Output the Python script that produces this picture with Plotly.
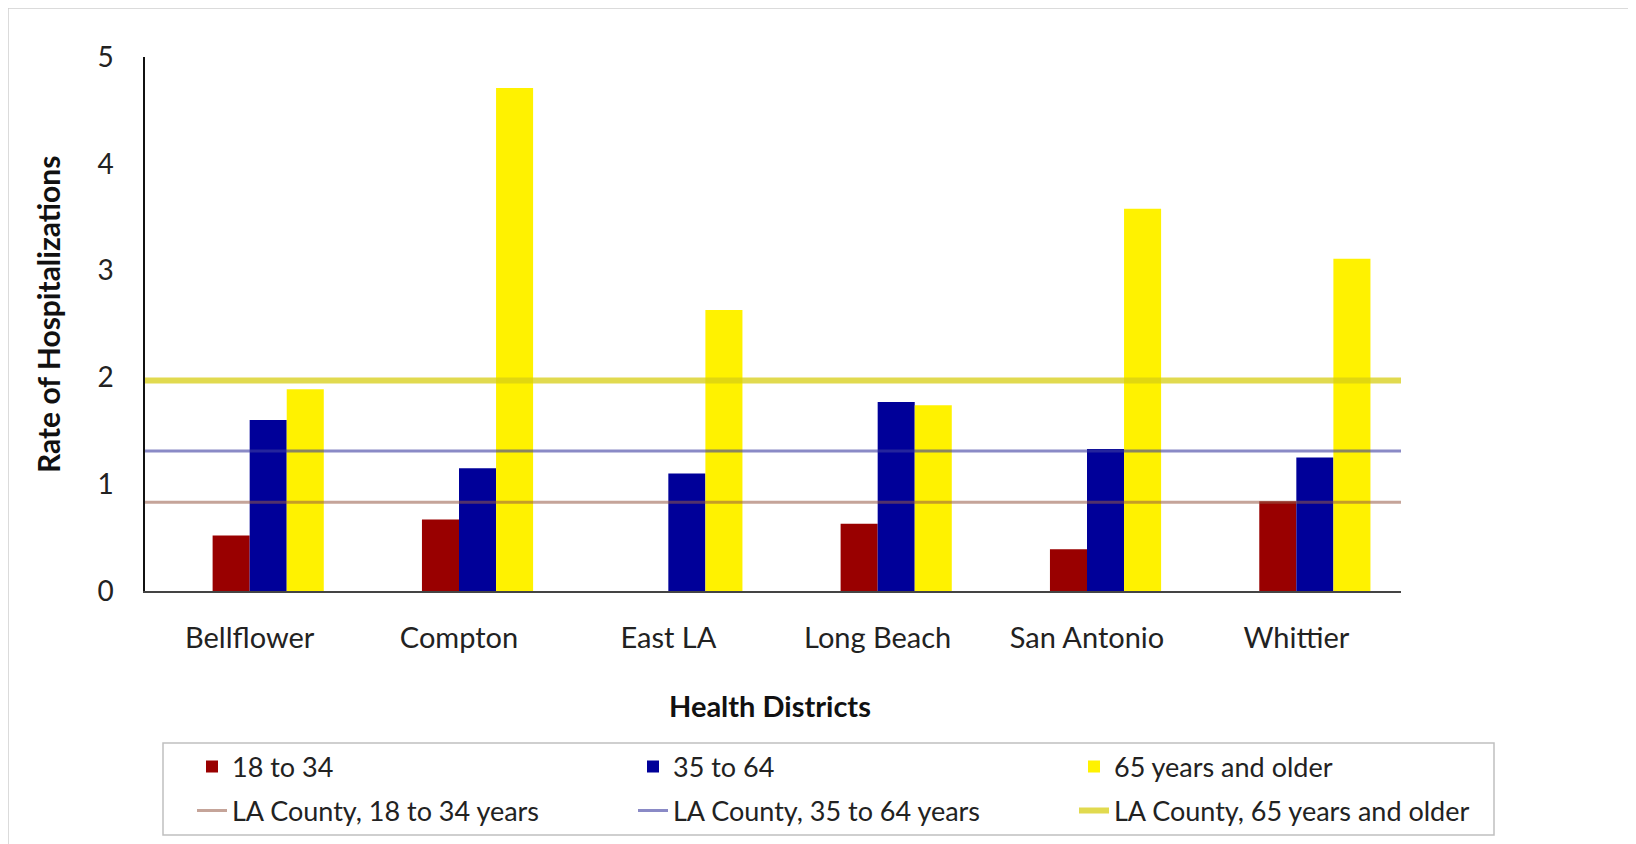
import plotly.graph_objects as go

districts = ["Bellflower", "Compton", "East LA", "Long Beach", "San Antonio", "Whittier"]
age_18_34 = [0.52, 0.67, 0.0, 0.63, 0.39, 0.84]
age_35_64 = [1.60, 1.15, 1.10, 1.77, 1.33, 1.25]
age_65_up = [1.89, 4.71, 2.63, 1.74, 3.58, 3.11]
la_county_18_34 = 0.83
la_county_35_64 = 1.31
la_county_65_up = 1.97
y_ticks = [0, 1, 2, 3, 4, 5]

FONT = "Lato"
OFF = 8  # page body margin
W, H = 1636 - OFF, 844 - OFF
L, R, T, B = 145 - OFF, 1401 - OFF, 57 - OFF, 591 - OFF
pw, ph = R - L, B - T


def px(xp):
    # page x -> paper x
    return (xp - OFF - L) / pw


def py(yp):
    # page y -> paper y
    return (B - (yp - OFF)) / ph


fig = go.Figure()

slot = 0.177
bar_series = [
    ("18 to 34", age_18_34, "#990000", -slot),
    ("35 to 64", age_35_64, "#000099", 0.0),
    ("65 years and older", age_65_up, "#fff200", slot),
]
for name, vals, col, off in bar_series:
    fig.add_trace(go.Bar(
        x=districts, y=vals, name=name, marker=dict(color=col, line=dict(width=0)),
        width=slot, offset=off, xaxis="x", yaxis="y", legend="legend",
    ))

line_series = [
    ("LA County, 18 to 34 years", la_county_18_34, "rgba(150,90,70,0.55)", 3),
    ("LA County, 35 to 64 years", la_county_35_64, "rgba(60,60,160,0.6)", 3),
    ("LA County, 65 years and older", la_county_65_up, "rgba(215,205,20,0.75)", 6),
]
for name, v, col, w in line_series:
    fig.add_trace(go.Scatter(
        x=[0, 1], y=[v, v], mode="lines", name=name,
        line=dict(color=col, width=w), xaxis="x2", yaxis="y", legend="legend2",
    ))

leg_common = dict(
    orientation="h", xanchor="right", yanchor="middle", x=px(1515),
    borderwidth=0, entrywidth=396, bgcolor="rgba(0,0,0,0)",
    font=dict(size=27, color="#222"), traceorder="normal",
)

fig.update_layout(
    width=W, height=H,
    margin=dict(l=L, r=W - R, t=T, b=H - B, autoexpand=False),
    paper_bgcolor="white", plot_bgcolor="white",
    font=dict(family=FONT, size=27, color="#222"),
    barmode="overlay",
    showlegend=True,
    xaxis=dict(
        type="category", showgrid=False, zeroline=False,
        showline=True, linecolor="#444", linewidth=2,
        ticks="", ticklabelstandoff=20, tickfont=dict(size=29, color="#222"),
        range=[-0.5, 5.5],
    ),
    xaxis2=dict(overlaying="x", range=[0, 1], visible=False, showgrid=False),
    yaxis=dict(
        range=[0, 5], tickvals=y_ticks, showgrid=False, zeroline=False,
        showline=True, linecolor="#111", linewidth=1.5,
        ticks="", ticklabelstandoff=24, tickfont=dict(size=28, color="#222"),
    ),
    legend=dict(y=py(767), **leg_common),
    legend2=dict(y=py(811), **leg_common),
    annotations=[
        dict(text="<b>Health Districts</b>", xref="paper", yref="paper",
             x=px(770), y=py(705), xanchor="center", yanchor="middle",
             showarrow=False, font=dict(size=29, color="#111")),
        dict(text="<b>Rate of Hospitalizations</b>", xref="paper", yref="paper",
             x=px(48), y=py(315), xanchor="center", yanchor="middle",
             showarrow=False, textangle=-90,
             font=dict(size=30, color="#111")),
    ],
    shapes=[
        dict(type="rect", xref="paper", yref="paper",
             x0=px(8), x1=px(1629), y0=py(8), y1=py(900),
             line=dict(color="#d0d0d0", width=1.5), layer="below"),
        dict(type="rect", xref="paper", yref="paper",
             x0=px(163), x1=px(1494), y0=py(743), y1=py(835),
             line=dict(color="#c0c0c0", width=1.5), layer="below"),
    ],
)

fig.write_html("out.html")
